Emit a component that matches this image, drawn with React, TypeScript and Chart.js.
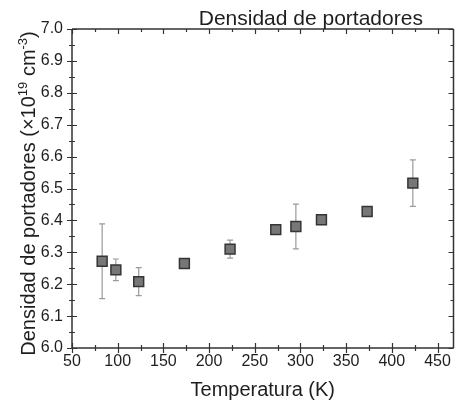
import React, { useEffect, useRef } from 'react';
import { Chart, registerables } from 'chart.js';

Chart.register(...registerables);

// ---- data ----
const temperatures = [83, 98, 123, 173, 223, 273, 295, 323, 373, 423];
const density = [6.272, 6.245, 6.208, 6.265, 6.31, 6.371, 6.381, 6.402, 6.428, 6.517];
const densityError = [0.117, 0.034, 0.044, 0.008, 0.028, 0.01, 0.07, 0.008, 0.008, 0.073];
const xTickValues = [50, 100, 150, 200, 250, 300, 350, 400, 450];
const yTickValues = [6.0, 6.1, 6.2, 6.3, 6.4, 6.5, 6.6, 6.7, 6.8, 6.9, 7.0];
const chartTitle = 'Densidad de portadores';
const xTitle = 'Temperatura (K)';
const X_MIN = 50;
const X_MAX = 467.5;
const Y_MIN = 6.0;
const Y_MAX = 7.0;

const FONT = '"Liberation Sans", Arial, Helvetica, sans-serif';
const AXIS_COLOR = '#333333';
const TEXT_COLOR = '#1e1e1e';

const errorBarPlugin = {
  id: 'errorBars',
  beforeDatasetsDraw(chart: any) {
    const { ctx, scales } = chart;
    const x = scales.x;
    const y = scales.y;
    ctx.save();
    ctx.strokeStyle = '#9a9a9a';
    ctx.lineWidth = 1.2;
    temperatures.forEach((t, i) => {
      const px = x.getPixelForValue(t);
      const yTop = y.getPixelForValue(density[i] + densityError[i]);
      const yBot = y.getPixelForValue(density[i] - densityError[i]);
      const cap = 3;
      ctx.beginPath();
      ctx.moveTo(px, yTop);
      ctx.lineTo(px, yBot);
      ctx.moveTo(px - cap, yTop);
      ctx.lineTo(px + cap, yTop);
      ctx.moveTo(px - cap, yBot);
      ctx.lineTo(px + cap, yBot);
      ctx.stroke();
    });
    ctx.restore();
  },
};

const framePlugin = {
  id: 'frameTicks',
  afterDraw(chart: any) {
    const { ctx, chartArea, scales } = chart;
    const { left, right, top, bottom } = chartArea;
    const x = scales.x;
    const y = scales.y;
    ctx.save();
    ctx.strokeStyle = AXIS_COLOR;
    ctx.lineWidth = 1.5;
    ctx.beginPath();
    // frame
    ctx.moveTo(left, top);
    ctx.lineTo(right, top);
    ctx.moveTo(right, top);
    ctx.lineTo(right, bottom);
    ctx.moveTo(left, top);
    ctx.lineTo(left, bottom);
    ctx.lineTo(right, bottom);
    ctx.stroke();

    ctx.lineWidth = 1.2;
    ctx.beginPath();
    // x ticks (major + minor)
    for (let v = X_MIN; v <= X_MAX; v += 25) {
      const px = Math.round(x.getPixelForValue(v)) + 0.5;
      const major = v % 50 === 0;
      const len = major ? 5 : 3;
      ctx.moveTo(px, bottom - len);
      ctx.lineTo(px, bottom + len);
      ctx.moveTo(px, top);
      ctx.lineTo(px, top + len);
    }
    // y ticks
    for (let k = 0; k <= 20; k++) {
      const v = Y_MIN + k * 0.05;
      const py = Math.round(y.getPixelForValue(v)) + 0.5;
      const major = k % 2 === 0;
      const len = major ? 5 : 3;
      ctx.moveTo(left - len, py);
      ctx.lineTo(left + len, py);
      ctx.moveTo(right, py);
      ctx.lineTo(right - len, py);
    }
    ctx.stroke();

    // chart title
    ctx.fillStyle = TEXT_COLOR;
    ctx.font = `21px ${FONT}`;
    ctx.textAlign = 'center';
    ctx.textBaseline = 'alphabetic';
    ctx.fillText(chartTitle, left + (right - left) * 0.626, top - 4);

    // y axis title with superscripts
    const big = `20px ${FONT}`;
    const small = `13px ${FONT}`;
    const parts: [string, string, number][] = [
      ['Densidad de portadores (\u00d710', big, 0],
      ['19', small, -8],
      [' cm', big, 0],
      ['-3', small, -8],
      [')', big, 0],
    ];
    let total = 0;
    parts.forEach(([txt, f]) => {
      ctx.font = f;
      total += ctx.measureText(txt).width;
    });
    ctx.translate(left - 44, (top + bottom) / 2 + 5);
    ctx.rotate(-Math.PI / 2);
    ctx.textAlign = 'left';
    ctx.textBaseline = 'alphabetic';
    let cx = -total / 2;
    parts.forEach(([txt, f, dy]) => {
      ctx.font = f;
      ctx.fillText(txt, cx, 7 + dy);
      cx += ctx.measureText(txt).width;
    });
    ctx.restore();
  },
};

export default function App() {
  const canvasRef = useRef<HTMLCanvasElement | null>(null);

  useEffect(() => {
    if (!canvasRef.current) return;
    const chart = new Chart(canvasRef.current, {
      type: 'scatter',
      data: {
        datasets: [
          {
            label: chartTitle,
            data: temperatures.map((t, i) => ({ x: t, y: density[i] })),
            pointStyle: 'rect',
            pointRadius: 7,
            pointHoverRadius: 7,
            backgroundColor: '#777777',
            borderColor: '#353535',
            borderWidth: 1.5,
          },
        ],
      },
      options: {
        responsive: false,
        animation: false,
        layout: { padding: { top: 29, right: 1, left: 0, bottom: 0 } },
        plugins: {
          legend: { display: false },
          title: { display: false },
          tooltip: { enabled: false },
        },
        scales: {
          x: {
            type: 'linear',
            min: X_MIN,
            max: X_MAX,
            afterBuildTicks: (s: any) => {
              s.ticks = xTickValues.map((v) => ({ value: v }));
            },
            afterFit: (s: any) => {
              s.height = 62;
            },
            grid: { display: false, drawTicks: false },
            border: { display: false },
            ticks: {
              padding: 4,
              color: TEXT_COLOR,
              font: { family: FONT, size: 16 },
              maxRotation: 0,
              autoSkip: false,
            },
            title: {
              display: true,
              text: xTitle,
              color: TEXT_COLOR,
              font: { family: FONT, size: 20 },
              padding: { top: 0, bottom: 8 },
            },
          },
          y: {
            type: 'linear',
            min: Y_MIN,
            max: Y_MAX,
            afterBuildTicks: (s: any) => {
              s.ticks = yTickValues.map((v) => ({ value: v }));
            },
            afterFit: (s: any) => {
              s.width = 72;
            },
            grid: { display: false, drawTicks: false },
            border: { display: false },
            ticks: {
              padding: 9,
              color: TEXT_COLOR,
              font: { family: FONT, size: 16 },
              autoSkip: false,
              callback: (v: any) => Number(v).toFixed(1),
            },
          },
        },
      },
      plugins: [errorBarPlugin, framePlugin],
    });
    return () => chart.destroy();
  }, []);

  return (
    <div style={{ position: 'fixed', left: 0, top: 0, width: 462, height: 410, background: '#fff' }}>
      <canvas ref={canvasRef} width={462} height={410} style={{ width: 462, height: 410, display: 'block' }} />
    </div>
  );
}
